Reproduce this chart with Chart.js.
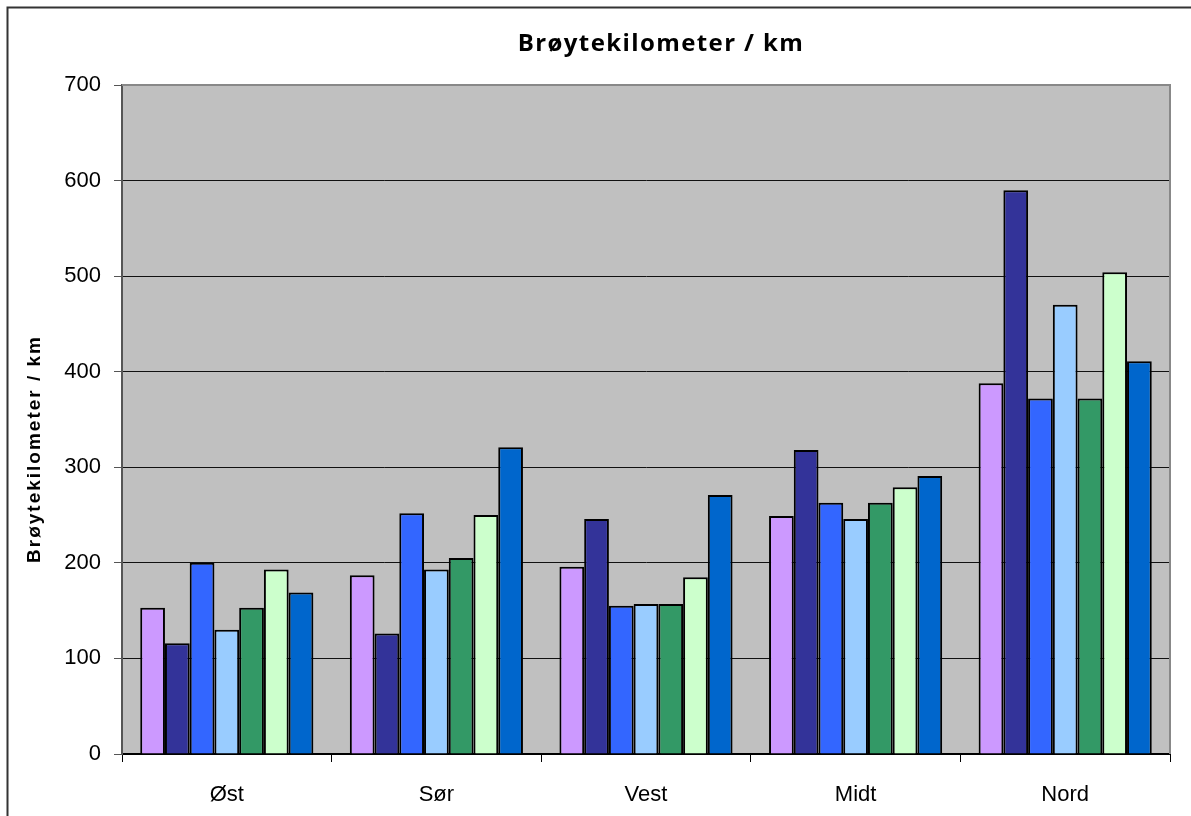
<!DOCTYPE html>
<html>
<head>
<meta charset="utf-8">
<script src="https://cdn.jsdelivr.net/npm/chart.js@4"></script>
<style>
  html, body { margin: 0; padding: 0; background: #fff; }
  #wrap { width: 1191px; height: 816px; position: relative; }
</style>
</head>
<body>
<div id="wrap"><canvas id="c" width="1191" height="816"></canvas></div>
<script>
const chartTitle = "Brøytekilometer / km";
const yAxisTitle = "Brøytekilometer / km";
const categories = ["Øst", "Sør", "Vest", "Midt", "Nord"];
const seriesNames = ["Serie 1", "Serie 2", "Serie 3", "Serie 4", "Serie 5", "Serie 6", "Serie 7"];
const serie1 = [153, 187, 196, 249, 388];
const serie2 = [116, 126, 246, 318, 590];
const serie3 = [200, 252, 155, 263, 372];
const serie4 = [130, 193, 157, 246, 470];
const serie5 = [153, 205, 157, 263, 372];
const serie6 = [193, 250, 185, 279, 504];
const serie7 = [169, 321, 271, 291, 411];
const seriesColors = ["#CC99FF", "#333399", "#3366FF", "#99CCFF", "#339966", "#CCFFCC", "#0066CC"];
const yTicks = [0, 100, 200, 300, 400, 500, 600, 700];

const allSeries = [serie1, serie2, serie3, serie4, serie5, serie6, serie7];

const decorPlugin = {
  id: 'decor',
  beforeDraw(chart) {
    const ctx = chart.ctx;
    const a = chart.chartArea;
    ctx.save();
    ctx.fillStyle = '#fff';
    ctx.fillRect(0, 0, chart.width, chart.height);
    ctx.fillStyle = '#C0C0C0';
    ctx.fillRect(a.left, a.top, a.right - a.left, a.bottom - a.top);
    ctx.strokeStyle = '#333';
    ctx.lineWidth = 2;
    ctx.beginPath();
    ctx.moveTo(7.5, chart.height);
    ctx.lineTo(7.5, 7.5);
    ctx.lineTo(chart.width, 7.5);
    ctx.stroke();
    ctx.restore();
  },
  afterDatasetsDraw(chart) {
    const ctx = chart.ctx;
    const a = chart.chartArea;
    ctx.save();
    ctx.strokeStyle = '#888';
    ctx.lineWidth = 2;
    ctx.beginPath();
    ctx.moveTo(a.left, a.top);
    ctx.lineTo(a.right, a.top);
    ctx.lineTo(a.right, a.bottom);
    ctx.stroke();
    ctx.restore();
  },
  afterDraw(chart) {
    const ctx = chart.ctx;
    ctx.save();
    ctx.fillStyle = '#000';
    ctx.textAlign = 'center';
    ctx.textBaseline = 'middle';
    ctx.font = 'bold 24px "Open Sans"';
    ctx.letterSpacing = '1.4px';
    ctx.fillText(chartTitle, 661, 44);
    ctx.translate(35, 449);
    ctx.rotate(-Math.PI / 2);
    ctx.font = 'bold 19px "Liberation Sans"';
    ctx.letterSpacing = '2px';
    ctx.fillText(yAxisTitle, 0, 0);
    ctx.restore();
  }
};

new Chart(document.getElementById('c'), {
  type: 'bar',
  data: {
    labels: categories,
    datasets: allSeries.map((d, i) => ({
      label: seriesNames[i],
      data: d,
      backgroundColor: seriesColors[i],
      borderColor: '#000',
      borderWidth: 2,
      categoryPercentage: 0.826,
      barPercentage: 1.0
    }))
  },
  options: {
    responsive: false,
    animation: false,
    devicePixelRatio: 1,
    layout: { padding: { top: 85, right: 21, bottom: 0, left: 0 } },
    plugins: {
      legend: { display: false },
      title: { display: false },
      tooltip: { enabled: false }
    },
    scales: {
      x: {
        afterFit(scale) { scale.height = 62; },
        grid: {
          offset: true,
          drawOnChartArea: false,
          drawTicks: true,
          tickLength: 8,
          tickColor: '#000',
          tickWidth: 1
        },
        border: { color: '#000', width: 2 },
        ticks: {
          font: { family: '"Liberation Sans"', size: 22 },
          color: '#000',
          padding: 20
        }
      },
      y: {
        min: 0,
        max: 700,
        afterFit(scale) { scale.width = 122; },
        afterBuildTicks(scale) { scale.ticks = yTicks.map(v => ({ value: v })); },
        grid: {
          color: (c) => (c.tick && c.tick.value === 700) ? 'rgba(0,0,0,0)' : '#111',
          lineWidth: 1,
          drawTicks: true,
          tickLength: 8,
          tickColor: '#555'
        },
        border: { color: '#555', width: 2 },
        ticks: {
          font: { family: '"Liberation Sans"', size: 22 },
          color: '#000',
          padding: 13
        }
      }
    }
  },
  plugins: [decorPlugin]
});
</script>
</body>
</html>
